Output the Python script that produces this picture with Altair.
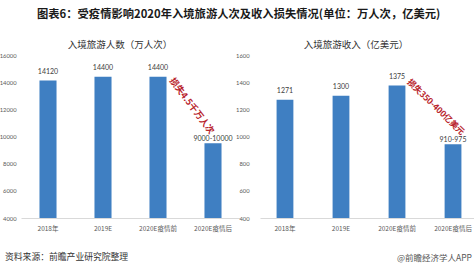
import altair as alt
import pandas as pd

# Categories and values
categories = ["2018年", "2019E", "2020E疫情前", "2020E疫情后"]
visitors = [14120, 14400, 14400, 9500]          # 万人次 (last = midpoint of 9000-10000)
visitor_labels = ["14120", "14400", "14400", "9000-10000"]
revenue = [1271, 1300, 1375, 942.5]             # 亿美元 (last = midpoint of 910-975)
revenue_labels = ["1271", "1300", "1375", "910-975"]

visitor_ticks = [4000, 6000, 8000, 10000, 12000, 14000, 16000]
revenue_ticks = [400, 600, 800, 1000, 1200, 1400, 1600]

BAR = "#3f7fc2"
RED = "#b8232b"
CJK = "Noto Sans CJK SC"
NUM = "Lato"

left_df = pd.DataFrame({"cat": categories, "v": visitors, "lab": visitor_labels})
right_df = pd.DataFrame({"cat": categories, "v": revenue, "lab": revenue_labels})


def panel(df, x_range, pad_inner, pad_outer, domain, ticks, axis_offset, label_pad):
    x = alt.X(
        "cat:N",
        sort=categories,
        scale=alt.Scale(range=x_range, paddingInner=pad_inner, paddingOuter=pad_outer),
        axis=alt.Axis(
            orient="bottom", offset=-53, title=None, ticks=False, labelAngle=0,
            labelPadding=7, labelFontSize=6.5, labelFont=CJK, labelColor="#595959",
            domainColor="#d9d9d9", domainWidth=1,
        ),
    )
    y = alt.Y(
        "v:Q",
        scale=alt.Scale(domain=domain, range=[218, 55], zero=False, nice=False),
        axis=alt.Axis(
            orient="left", offset=axis_offset, values=ticks, format="d", title=None,
            domain=False, ticks=False, grid=False, labelPadding=label_pad,
            labelFontSize=5.8, labelFont=NUM, labelColor="#595959",
        ),
    )
    base = alt.Chart(df)
    bars = base.mark_bar(color=BAR).encode(x=x, y=y, y2=alt.datum(domain[0]))
    # value labels: the range label of the last bar sits close to its bar
    labels = base.transform_filter(
        alt.datum.cat != categories[-1]
    ).mark_text(
        font=NUM, fontSize=7, color="#404040", baseline="middle", dy=-9
    ).encode(x=x, y=y, text="lab:N")
    last_label = base.transform_filter(
        alt.datum.cat == categories[-1]
    ).mark_text(
        font=NUM, fontSize=7, color="#404040", baseline="middle", dy=-4
    ).encode(x=x, y=y, text="lab:N")
    return alt.layer(bars, labels, last_label)


left = panel(left_df, [21, 240], 0.69, 0.336, [4000, 16000], visitor_ticks, -21, 5)
right = panel(right_df, [260, 478], 0.70, 0.296, [400, 1600], revenue_ticks, -260, 11)


def note(text, x, y, **kw):
    return alt.Chart(pd.DataFrame({"t": [text]})).mark_text(**kw).encode(
        x=alt.value(x), y=alt.value(y), text="t:N"
    )


title = note("图表6：受疫情影响2020年入境旅游人次及收入损失情况(单位：万人次，亿美元)", 37, 15,
             font=CJK, fontSize=11.3, fontWeight="bold", color="#1a1a1a",
             align="left", baseline="middle")
sub_left = note("入境旅游人数（万人次）", 120, 45, font=CJK, fontSize=9.5,
                color="#333333", align="center", baseline="middle")
sub_right = note("入境旅游收入（亿美元）", 356, 45, font=CJK, fontSize=9.5,
                 color="#333333", align="center", baseline="middle")
loss_left = note("损失4.5千万人次", 192, 106, font=CJK, fontSize=9, fontWeight="bold",
                 color=RED, align="center", baseline="middle", angle=53)
loss_right = note("损失350-400亿美元", 436, 107, font=CJK, fontSize=8.5, fontWeight="bold",
                  color=RED, align="center", baseline="middle", angle=44)
source = note("资料来源：前瞻产业研究院整理", 5, 257, font=CJK, fontSize=8.8,
              color="#333333", align="left", baseline="middle")
brand = note("@前瞻经济学人APP", 472, 258, font=CJK, fontSize=8.5,
             color="#555555", align="right", baseline="middle")

chart = (
    alt.layer(left, right, title, sub_left, sub_right, loss_left, loss_right, source, brand)
    .resolve_scale(x="independent", y="independent")
    .properties(width=474, height=271, padding=0,
                autosize=alt.AutoSizeParams(type="none"), background="white")
    .configure_view(stroke=None)
)

chart.save("out.html", embed_options={"renderer": "svg", "actions": False})
